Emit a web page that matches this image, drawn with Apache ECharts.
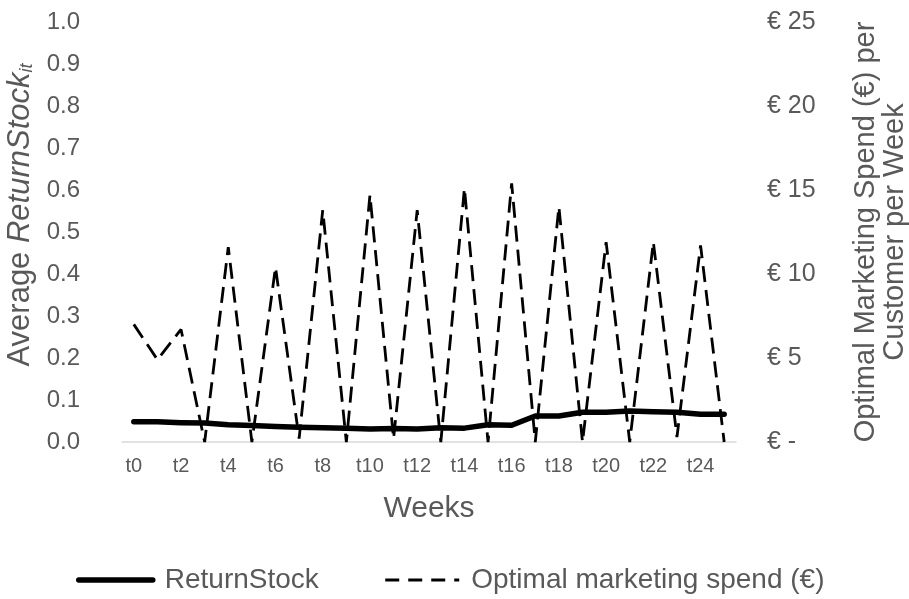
<!DOCTYPE html>
<html>
<head>
<meta charset="utf-8">
<script src="https://cdn.jsdelivr.net/npm/echarts@6/dist/echarts.min.js"></script>
<style>
  html, body { margin: 0; padding: 0; background: #fff; }
  #chart { width: 909px; height: 599px; }
</style>
</head>
<body>
<div id="chart"></div>
<script>
// Weekly categories
var weeks = ['t0','t1','t2','t3','t4','t5','t6','t7','t8','t9','t10','t11','t12',
             't13','t14','t15','t16','t17','t18','t19','t20','t21','t22','t23','t24','t25'];

// Average ReturnStock per week (left axis)
var returnStock = [0.048, 0.048, 0.046, 0.045, 0.041, 0.039, 0.037, 0.035, 0.034, 0.033,
                   0.031, 0.032, 0.031, 0.034, 0.033, 0.041, 0.040, 0.062, 0.062, 0.071,
                   0.071, 0.074, 0.072, 0.071, 0.066, 0.066];

// Optimal marketing spend per customer per week, in euro (right axis)
var marketingSpend = [7.0, 4.9, 6.7, 0, 11.6, 0, 10.4, 0.2, 13.8, 0, 14.7, 0.2, 13.8,
                      0, 15.1, 0, 15.4, 0, 14.0, 0, 11.9, 0, 11.9, 0.3, 11.7, 0];

// Axis ranges and tick steps
var leftAxisMax = 1.0, leftAxisStep = 0.1;
var rightAxisMax = 25, rightAxisStep = 5;

var FONT = '"Liberation Sans", Arial, sans-serif';
var TXT = '#595959';
var SOLID_W = 5.5, DASH_W = 2.8, DASH = [16, 8];

var chart = echarts.init(document.getElementById('chart'), null, { renderer: 'canvas' });

chart.setOption({
  animation: false,
  backgroundColor: '#ffffff',
  textStyle: { fontFamily: FONT, color: TXT },
  grid: { left: 122, right: 173, top: 22, bottom: 157, containLabel: false, outerBoundsMode: 'none' },
  legend: {
    left: 71,
    top: 561,
    itemWidth: 74,
    itemHeight: 14,
    itemGap: 65,
    itemStyle: { opacity: 0 },
    textStyle: { fontFamily: FONT, fontSize: 28, color: TXT, padding: [0, 0, 0, 7] },
    data: [
      { name: 'ReturnStock', lineStyle: { width: SOLID_W, color: '#000', cap: 'round' } },
      { name: 'Optimal marketing spend (€)', lineStyle: { width: DASH_W, color: '#000', type: [14, 9] } }
    ]
  },
  xAxis: {
    type: 'category',
    data: weeks,
    boundaryGap: true,
    name: 'Weeks',
    nameLocation: 'middle',
    nameGap: 52,
    nameTextStyle: { fontFamily: FONT, fontSize: 30, color: TXT },
    axisLine: { lineStyle: { color: '#d9d9d9', width: 1.5 } },
    axisTick: { show: false },
    axisLabel: { interval: 1, margin: 14, fontSize: 20, color: TXT, fontFamily: FONT },
    splitLine: { show: false }
  },
  yAxis: [
    {
      type: 'value',
      min: 0,
      max: leftAxisMax,
      interval: leftAxisStep,
      position: 'left',
      name: 'Average {i|ReturnStock}{s|it}',
      nameLocation: 'middle',
      nameRotate: 90,
      nameGap: 80,
      nameTextStyle: {
        fontFamily: FONT, fontSize: 31, color: TXT, padding: [0, 0, 0, 34],
        rich: {
          i: { fontFamily: FONT, fontSize: 31, fontStyle: 'italic', color: TXT },
          s: { fontFamily: FONT, fontSize: 18, fontStyle: 'italic', color: TXT, verticalAlign: 'bottom', padding: [12, 0, 0, 0] }
        }
      },
      axisLine: { show: false },
      axisTick: { show: false },
      splitLine: { show: false },
      axisLabel: {
        margin: 42, fontSize: 24, color: TXT, fontFamily: FONT,
        formatter: function (v) { return v.toFixed(1); }
      }
    },
    {
      type: 'value',
      min: 0,
      max: rightAxisMax,
      interval: rightAxisStep,
      position: 'right',
      name: 'Optimal Marketing Spend (€) per\nCustomer per Week',
      nameLocation: 'middle',
      nameRotate: 90,
      nameGap: 115,
      nameTextStyle: { fontFamily: FONT, fontSize: 29, color: TXT, lineHeight: 29, align: 'center' },
      axisLine: { show: false },
      axisTick: { show: false },
      splitLine: { show: false },
      axisLabel: {
        margin: 31, fontSize: 25, color: TXT, fontFamily: FONT,
        formatter: function (v) { return v === 0 ? '€ -' : '€ ' + v; }
      }
    }
  ],
  series: [
    {
      name: 'ReturnStock',
      type: 'line',
      yAxisIndex: 0,
      data: returnStock,
      showSymbol: false,
      symbol: 'none',
      lineStyle: { color: '#000000', width: SOLID_W, cap: 'round', join: 'round' },
      itemStyle: { color: '#000000' },
      z: 3
    },
    {
      name: 'Optimal marketing spend (€)',
      type: 'line',
      yAxisIndex: 1,
      data: marketingSpend,
      showSymbol: false,
      symbol: 'none',
      lineStyle: { color: '#000000', width: DASH_W, type: DASH },
      itemStyle: { color: '#000000' },
      z: 2
    }
  ]
});
</script>
</body>
</html>
